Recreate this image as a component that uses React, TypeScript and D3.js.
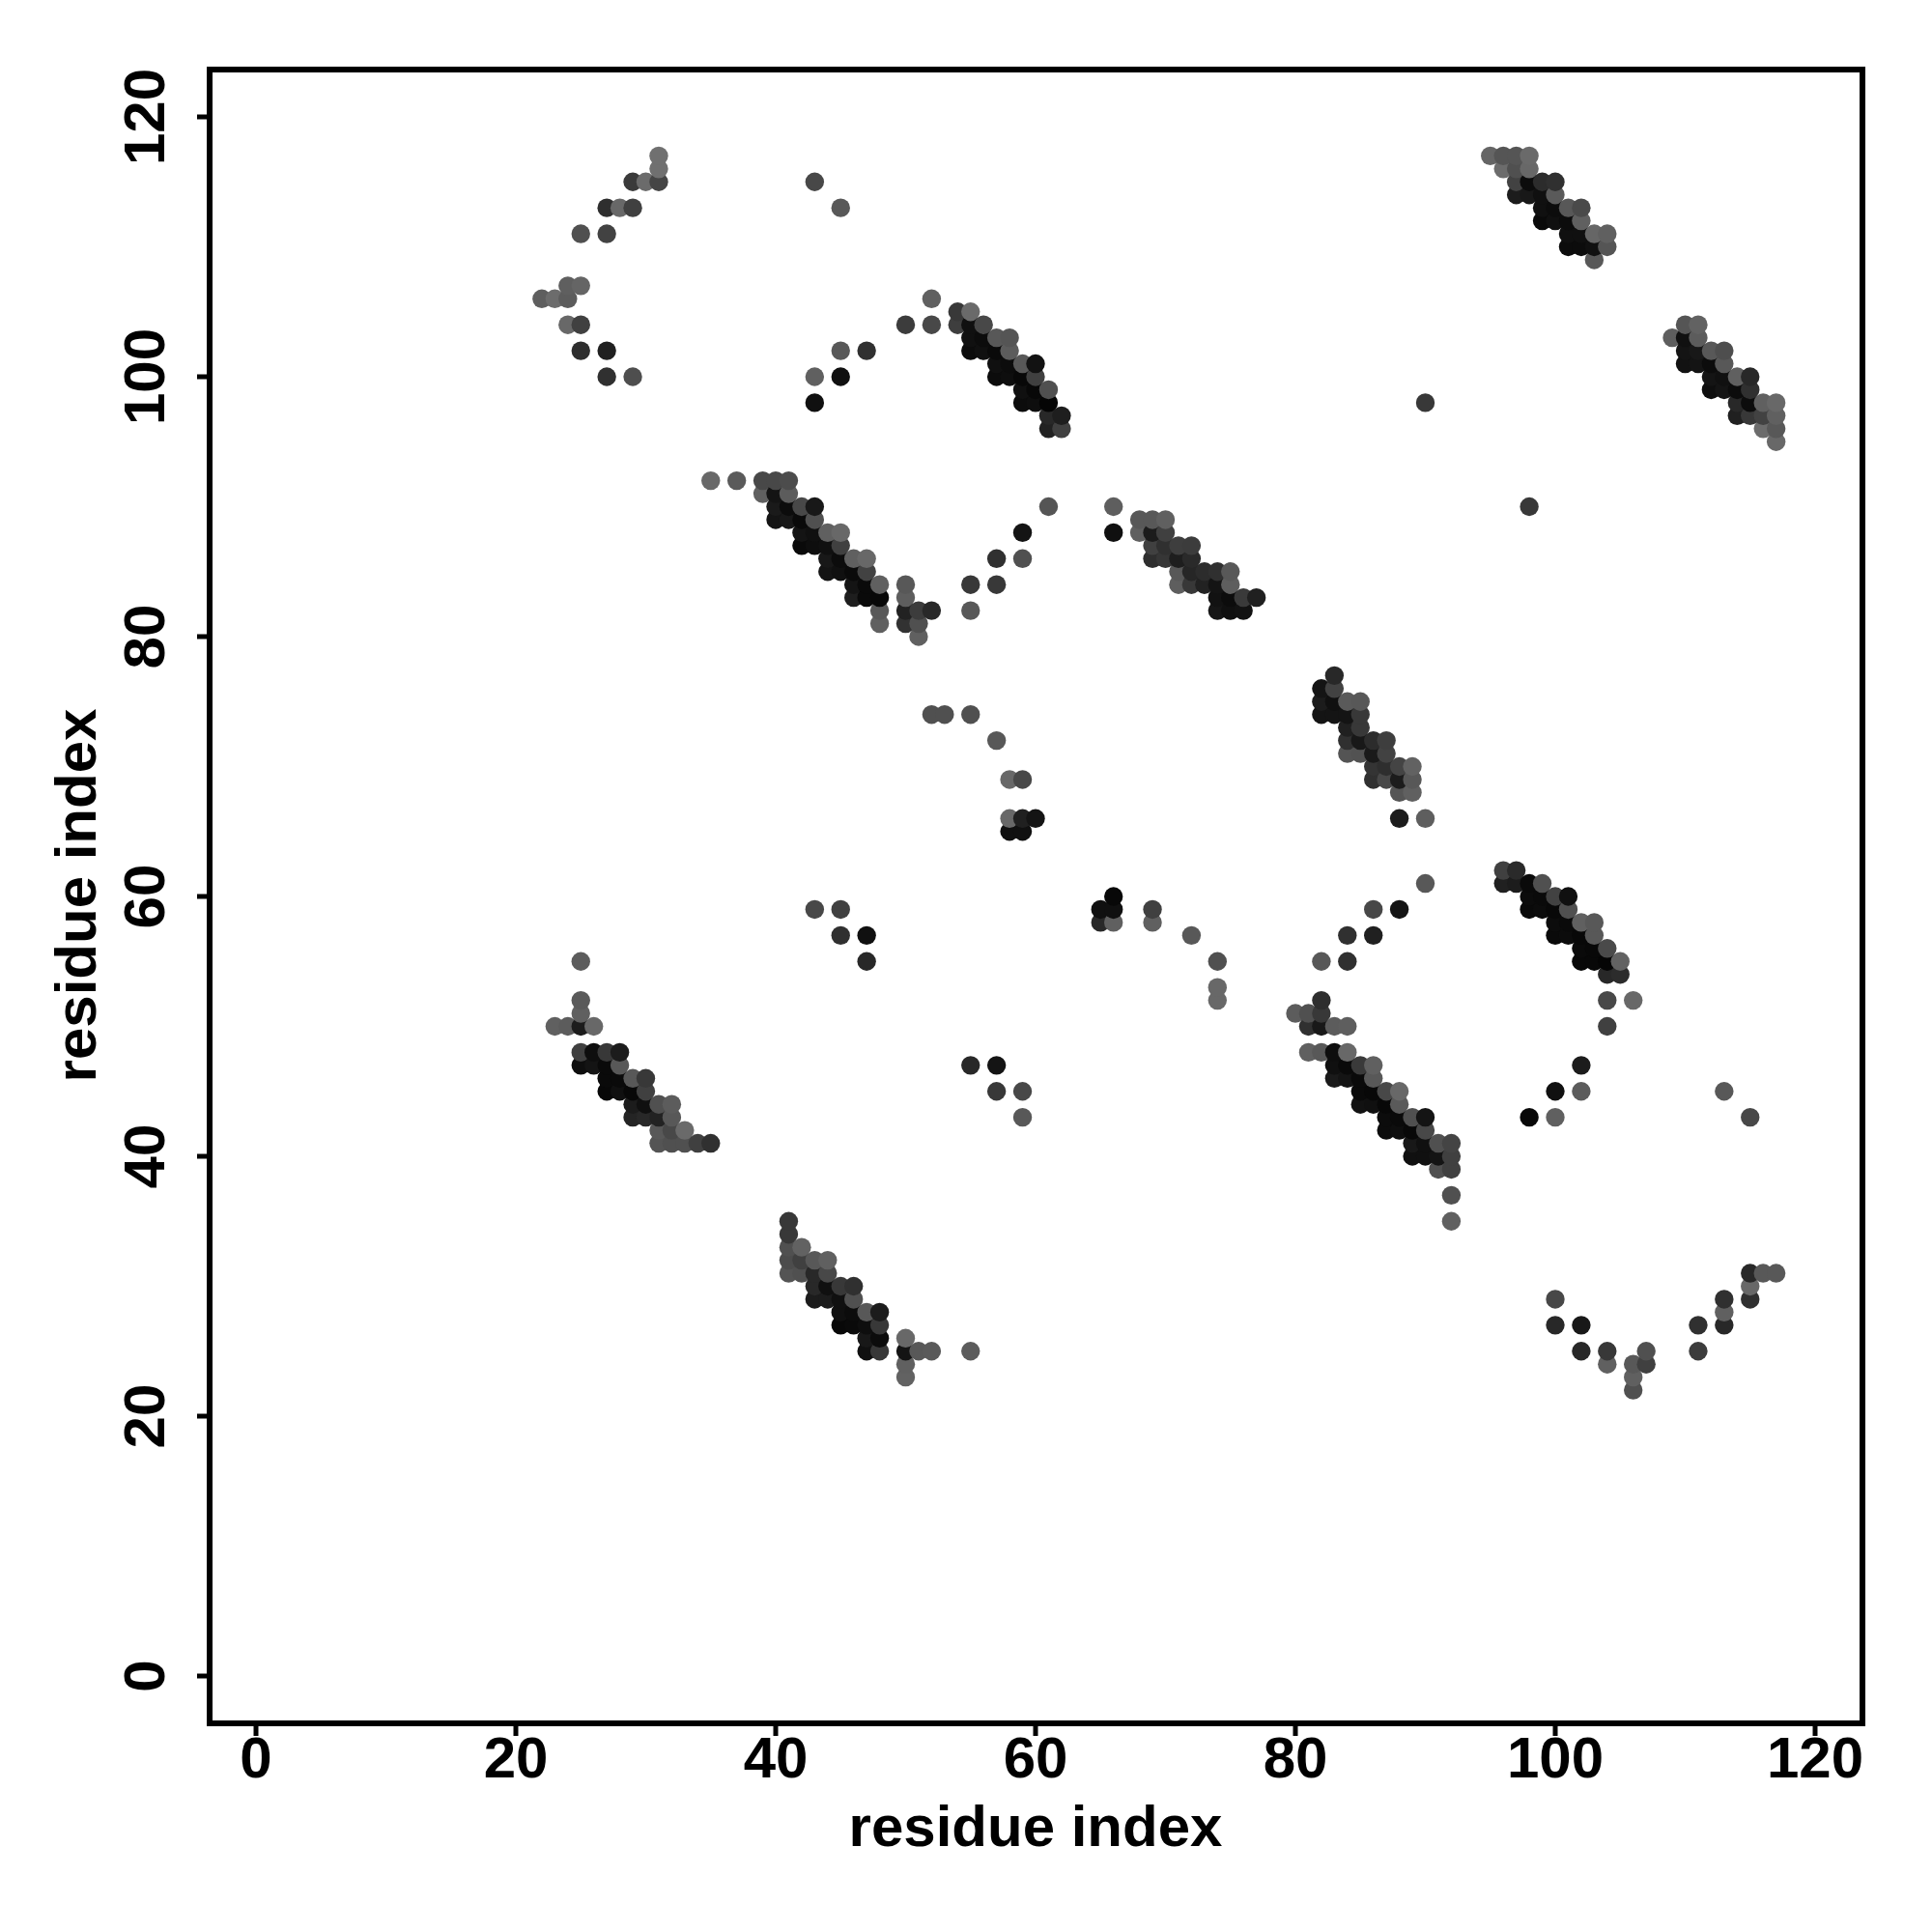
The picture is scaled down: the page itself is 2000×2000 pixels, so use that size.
import React from "react";
import * as d3 from "d3";

type P = [number, number, number];
// [residue x, residue y, score]
const arcTopLeft: P[] = [
  [31,117,0x70],[31,116,0x70],[31,115,0x45],[30,115,0x6b],[29,115,0x3a],[27,113,0x2e],[28,113,0x68],[29,113,0x40],
  [25,111,0x50],[27,111,0x42],[24,107,0x5f],[25,107,0x65],[22,106,0x5e],[23,106,0x6c],[24,106,0x5c],[24,104,0x68],
  [25,104,0x40],[25,102,0x2e],[27,102,0x20],[27,100,0x30],[29,100,0x4e],[43,115,0x48],[45,113,0x58],
];
const arcUpperMid: P[] = [
  [43,100,0x60],[43,98,0x10],[45,102,0x58],[45,100,0x10],[47,102,0x30],[50,104,0x3c],[52,104,0x48],[52,106,0x60],
];
const bandA: P[] = [
  [54,105,0x38],[55,105,0x6a],[54,104,0x3e],[55,104,0x10],[56,104,0x48],[55,103,0x10],[56,103,0x0c],[57,103,0x58],[58,103,0x55],
  [55,102,0x0c],[56,102,0x10],[57,102,0x0a],[58,102,0x5c],[57,101,0x10],[58,101,0x0c],[59,101,0x58],[60,101,0x12],
  [57,100,0x0c],[58,100,0x0e],[59,100,0x08],[60,100,0x40],[59,99,0x10],[60,99,0x08],[61,99,0x50],[59,98,0x0c],[60,98,0x0e],[61,98,0x05],
  [61,97,0x28],[62,97,0x1e],[61,96,0x22],[62,96,0x40],
];
const bandB: P[] = [
  [95,117,0x65],[96,117,0x55],[97,117,0x55],[98,117,0x6a],[96,116,0x6c],[97,116,0x50],[98,116,0x68],
  [97,115,0x42],[98,115,0x0c],[99,115,0x2c],[100,115,0x30],[97,114,0x1c],[98,114,0x18],[99,114,0x10],[100,114,0x5a],
  [99,113,0x10],[100,113,0x0c],[101,113,0x58],[102,113,0x4a],[99,112,0x0a],[100,112,0x10],[101,112,0x0c],[102,112,0x60],
  [101,111,0x10],[102,111,0x10],[103,111,0x66],[104,111,0x60],[101,110,0x0c],[102,110,0x0c],[103,110,0x10],[104,110,0x55],[103,109,0x58],
];
const bandC: P[] = [
  [110,104,0x55],[111,104,0x62],[109,103,0x5e],[110,103,0x10],[111,103,0x5c],[110,102,0x14],[111,102,0x18],[112,102,0x58],[113,102,0x4e],
  [110,101,0x12],[111,101,0x14],[112,101,0x0c],[113,101,0x58],[112,100,0x14],[113,100,0x10],[114,100,0x60],[115,100,0x28],
  [112,99,0x0e],[113,99,0x14],[114,99,0x0c],[115,99,0x30],[114,98,0x28],[115,98,0x0c],[116,98,0x60],[117,98,0x68],
  [114,97,0x20],[115,97,0x38],[116,97,0x42],[117,97,0x60],[116,96,0x6c],[117,96,0x58],[117,95,0x68],
];
const bandD: P[] = [
  [35,92,0x68],[37,92,0x5a],[39,92,0x48],[40,92,0x48],[41,92,0x4c],[39,91,0x60],[40,91,0x14],[41,91,0x5c],
  [40,90,0x1a],[41,90,0x0c],[42,90,0x48],[43,90,0x18],[40,89,0x14],[41,89,0x18],[42,89,0x0a],[43,89,0x50],
  [42,88,0x14],[43,88,0x10],[44,88,0x60],[45,88,0x68],[42,87,0x0a],[43,87,0x0e],[44,87,0x10],[45,87,0x40],
  [44,86,0x18],[45,86,0x0c],[46,86,0x60],[47,86,0x68],[44,85,0x14],[45,85,0x10],[46,85,0x0a],[47,85,0x42],
  [46,84,0x14],[47,84,0x0a],[48,84,0x60],[50,84,0x58],[46,83,0x1e],[47,83,0x0a],[48,83,0x08],[50,83,0x5e],
  [48,82,0x58],[50,82,0x22],[51,82,0x3c],[52,82,0x28],[48,81,0x60],[50,81,0x32],[51,81,0x50],[51,80,0x60],
];
const arcMid: P[] = [
  [55,84,0x38],[55,82,0x58],[57,86,0x30],[57,84,0x38],[59,88,0x14],[59,86,0x50],[61,90,0x55],[66,90,0x5e],[66,88,0x10],
  [90,98,0x38],[98,90,0x38],
];
const bandE: P[] = [
  [68,89,0x58],[69,89,0x58],[70,89,0x60],[68,88,0x60],[69,88,0x1c],[70,88,0x40],[69,87,0x40],[70,87,0x30],[71,87,0x3e],[72,87,0x3c],
  [69,86,0x2e],[70,86,0x36],[71,86,0x1e],[72,86,0x2a],[71,85,0x58],[72,85,0x26],[73,85,0x2c],[74,85,0x30],[75,85,0x58],
  [71,84,0x5e],[72,84,0x38],[73,84,0x22],[74,84,0x14],[75,84,0x5e],[74,83,0x12],[75,83,0x0c],[76,83,0x3a],[77,83,0x20],
  [74,82,0x16],[75,82,0x10],[76,82,0x12],
];
const bandF: P[] = [
  [83,77,0x28],[82,76,0x14],[83,76,0x42],[82,75,0x1c],[83,75,0x10],[84,75,0x5a],[85,75,0x58],[82,74,0x14],[83,74,0x14],[84,74,0x14],[85,74,0x38],
  [84,73,0x20],[85,73,0x38],[84,72,0x30],[85,72,0x18],[86,72,0x2c],[87,72,0x3e],[84,71,0x54],[85,71,0x52],[86,71,0x1a],[87,71,0x42],
  [86,70,0x34],[87,70,0x2e],[88,70,0x44],[89,70,0x62],[86,69,0x30],[87,69,0x48],[88,69,0x1c],[89,69,0x58],[88,68,0x55],[89,68,0x60],
  [88,66,0x1c],[90,66,0x5e],
];
const bandG: P[] = [
  [96,62,0x40],[97,62,0x2a],[96,61,0x20],[97,61,0x1c],[98,61,0x0a],[99,61,0x50],[98,60,0x0c],[99,60,0x0a],[100,60,0x42],[101,60,0x10],
  [98,59,0x0a],[99,59,0x0c],[100,59,0x08],[101,59,0x50],[100,58,0x0c],[101,58,0x0a],[102,58,0x60],[103,58,0x58],
  [100,57,0x0a],[101,57,0x0c],[102,57,0x08],[103,57,0x58],[102,56,0x0a],[103,56,0x08],[104,56,0x4a],
  [102,55,0x08],[103,55,0x08],[104,55,0x05],[105,55,0x62],[104,54,0x28],[105,54,0x2c],[104,52,0x48],[106,52,0x68],[104,50,0x40],
  [102,47,0x1c],[102,45,0x5c],[100,45,0x10],[100,43,0x60],[98,43,0x08],[113,45,0x58],[115,43,0x48],
];
const bandH: P[] = [
  [82,52,0x2e],[80,51,0x5c],[81,51,0x50],[82,51,0x38],[81,50,0x30],[82,50,0x18],[83,50,0x5c],[84,50,0x5e],
  [81,48,0x60],[82,48,0x58],[83,48,0x0e],[84,48,0x68],[83,47,0x10],[84,47,0x0a],[85,47,0x3a],[86,47,0x60],
  [83,46,0x1a],[84,46,0x14],[85,46,0x0a],[86,46,0x58],[85,45,0x0a],[86,45,0x08],[87,45,0x48],[88,45,0x68],
  [85,44,0x12],[86,44,0x10],[87,44,0x08],[88,44,0x5a],[87,43,0x0c],[88,43,0x0a],[89,43,0x50],[90,43,0x14],
  [87,42,0x0c],[88,42,0x0e],[89,42,0x08],[90,42,0x48],[89,41,0x18],[90,41,0x10],[91,41,0x50],[92,41,0x44],
  [89,40,0x10],[90,40,0x10],[91,40,0x14],[92,40,0x40],[91,39,0x50],[92,39,0x40],[92,37,0x50],[92,35,0x60],
];
const bandI: P[] = [
  [25,55,0x5c],[25,52,0x5a],[25,51,0x60],[23,50,0x60],[24,50,0x5c],[25,50,0x1c],[26,50,0x68],
  [25,48,0x40],[26,48,0x0e],[27,48,0x38],[28,48,0x1c],[25,47,0x0e],[26,47,0x14],[27,47,0x0a],[28,47,0x58],
  [27,46,0x0a],[28,46,0x0a],[29,46,0x58],[30,46,0x38],[27,45,0x08],[28,45,0x10],[29,45,0x08],[30,45,0x40],
  [29,44,0x1c],[30,44,0x10],[31,44,0x50],[32,44,0x5c],[29,43,0x24],[30,43,0x28],[31,43,0x22],[32,43,0x58],
  [31,42,0x58],[32,42,0x48],[33,42,0x6a],[31,41,0x54],[32,41,0x50],[33,41,0x50],[34,41,0x40],[35,41,0x30],
];
const bandJ: P[] = [
  [41,35,0x38],[41,34,0x38],[41,33,0x50],[42,33,0x62],[41,32,0x4c],[42,32,0x40],[43,32,0x58],[44,32,0x60],
  [41,31,0x54],[42,31,0x50],[43,31,0x28],[44,31,0x48],[43,30,0x28],[44,30,0x10],[45,30,0x38],[46,30,0x30],
  [43,29,0x1c],[44,29,0x1c],[45,29,0x10],[46,29,0x50],[45,28,0x10],[46,28,0x0c],[47,28,0x58],[48,28,0x1c],
  [45,27,0x08],[46,27,0x0a],[47,27,0x0e],[48,27,0x38],[47,26,0x18],[48,26,0x0c],[50,26,0x68],
  [47,25,0x10],[48,25,0x38],[50,25,0x14],[51,25,0x58],[52,25,0x5a],[50,24,0x60],[50,23,0x62],[55,25,0x5c],
];
const scatterCentre: P[] = [
  [52,74,0x50],[53,74,0x50],[55,74,0x50],[57,72,0x58],[58,69,0x68],[59,69,0x48],[58,66,0x68],[59,66,0x20],[60,66,0x14],[58,65,0x10],[59,65,0x10],
  [65,59,0x10],[66,60,0x08],[66,59,0x10],[65,58,0x28],[66,58,0x60],[69,59,0x40],[69,58,0x60],[72,57,0x58],[74,55,0x50],[74,53,0x68],[74,52,0x68],
  [43,59,0x48],[45,59,0x40],[45,57,0x30],[47,57,0x10],[47,55,0x28],[82,55,0x58],[84,55,0x30],[84,57,0x30],[86,57,0x20],[86,59,0x48],[88,59,0x14],[90,61,0x58],
  [55,47,0x28],[57,47,0x14],[57,45,0x38],[59,45,0x48],[59,43,0x58],
];
const arcBottomRight: P[] = [
  [100,29,0x48],[100,27,0x28],[102,27,0x18],[102,25,0x28],[104,25,0x38],[104,24,0x60],[106,24,0x58],[107,25,0x50],[107,24,0x40],[106,23,0x60],[106,22,0x50],
  [111,27,0x30],[111,25,0x3c],[113,29,0x30],[113,28,0x60],[113,27,0x28],[115,31,0x28],[116,31,0x58],[117,31,0x58],[115,30,0x68],[115,29,0x30],
];
const tickValues = [0, 20, 40, 60, 80, 100, 120];
const xLabel = "residue index";
const yLabel = "residue index";

const allPoints = [
  ...arcTopLeft, ...arcUpperMid, ...bandA, ...bandB, ...bandC, ...bandD, ...arcMid, ...bandE, ...bandF,
  ...bandG, ...bandH, ...bandI, ...bandJ, ...scatterCentre, ...arcBottomRight,
].slice().sort((a, b) => d3.ascending(a[0], b[0]) || d3.ascending(a[1], b[1]));

const FONT = "'Liberation Sans', Arial, sans-serif";

export default function App() {
  const x = d3.scaleLinear().domain([0, 120]).range([265, 1879]);
  const y = d3.scaleLinear().domain([0, 120]).range([1735, 121]);
  const shade = d3.scaleLinear<string>().domain([0, 255]).range(["#000000", "#ffffff"]);
  const box = { l: 217, r: 1928, t: 72, b: 1784 };
  return (
    <svg width={2000} height={2000} viewBox="0 0 2000 2000"
      style={{ position: "absolute", left: 0, top: 0, background: "#fff" }} fontFamily={FONT} fontWeight="bold">
      {allPoints.map((p, i) => (
        <circle key={i} cx={x(p[0])} cy={y(p[1])} r={9.7} fill={shade(p[2])} />
      ))}
      <rect x={box.l} y={box.t} width={box.r - box.l} height={box.b - box.t} fill="none" stroke="#000" strokeWidth={6} />
      {tickValues.map((t) => (
        <g key={t}>
          <line x1={x(t)} x2={x(t)} y1={box.b} y2={box.b + 13} stroke="#000" strokeWidth={5} />
          <text x={x(t)} y={1840} fontSize={60} textAnchor="middle">{t}</text>
          <line x1={box.l} x2={box.l - 13} y1={y(t)} y2={y(t)} stroke="#000" strokeWidth={5} />
          <text transform={`translate(170,${y(t)}) rotate(-90)`} fontSize={60} textAnchor="middle">{t}</text>
        </g>
      ))}
      <text x={1072} y={1911} fontSize={60} textAnchor="middle">{xLabel}</text>
      <text transform={`translate(99,927) rotate(-90)`} fontSize={60} textAnchor="middle">{yLabel}</text>
    </svg>
  );
}
